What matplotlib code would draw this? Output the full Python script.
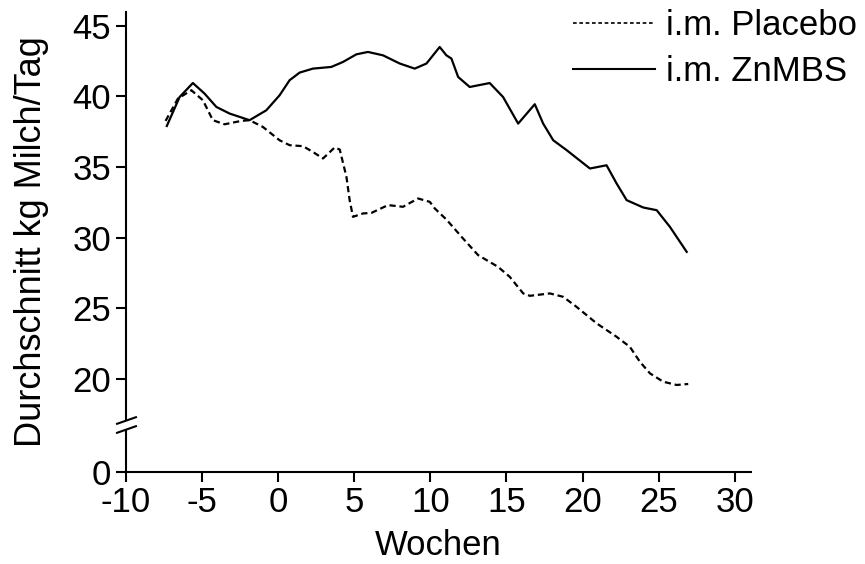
import matplotlib

matplotlib.use("Agg")
import matplotlib.pyplot as plt
from matplotlib.lines import Line2D

plt.rcParams["font.family"] = ["Liberation Sans", "DejaVu Sans"]

# Wochen / Milchleistung (kg/Tag)
placebo_x = [-7.37, -6.56, -5.68, -4.92, -4.27, -3.5, -2.4, -1.86, -0.98, 0.11, 0.77,
             1.65, 2.30, 2.96, 3.73, 4.06, 4.50, 4.71, 4.93, 5.59, 6.14, 7.23, 8.21,
             9.2, 9.97, 10.3, 11.06, 12.15, 13.14, 14.45, 15.22, 16.1, 16.54, 17.85,
             18.72, 19.6, 20.92, 22.23, 23.1, 23.76, 24.42, 25.29, 26.17, 26.93]
placebo_y = [38.27, 39.85, 40.44, 39.73, 38.32, 38.03, 38.27, 38.32, 37.84, 36.9, 36.55,
             36.48, 36.07, 35.61, 36.39, 36.24, 34.31, 32.66, 31.48, 31.72, 31.76, 32.31,
             32.19, 32.78, 32.54, 32.07, 31.29, 29.95, 28.77, 27.94, 27.23, 26.06, 25.89,
             26.06, 25.82, 25.11, 23.94, 22.99, 22.28, 21.22, 20.4, 19.81, 19.58, 19.65]

znmbs_x = [-7.29, -6.45, -5.58, -4.81, -4.04, -3.17, -1.86, -0.76, 0.11, 0.77, 1.43,
           2.30, 3.51, 4.27, 5.15, 5.91, 6.90, 8.0, 8.98, 9.75, 10.62, 11.06, 11.39,
           11.83, 12.59, 13.9, 14.78, 15.77, 16.86, 17.41, 18.07, 18.95, 20.48, 21.57,
           22.23, 22.89, 23.98, 24.86, 25.73, 26.83]
znmbs_y = [37.91, 39.96, 40.95, 40.2, 39.26, 38.79, 38.32, 39.02, 40.08, 41.15, 41.69,
           41.97, 42.09, 42.44, 42.98, 43.15, 42.91, 42.33, 41.97, 42.33, 43.50, 42.91,
           42.68, 41.38, 40.67, 40.95, 39.96, 38.08, 39.45, 38.08, 36.9, 36.2, 34.9,
           35.13, 33.84, 32.66, 32.14, 31.95, 30.77, 29.0]

labels = ["i.m. Placebo", "i.m. ZnMBS"]
x_ticks = [-10, -5, 0, 5, 10, 15, 20, 25, 30]
y_ticks = [20, 25, 30, 35, 40, 45]

# Achsenbruch: "0" sitzt unten, darueber beginnt die Skala bei ~17
Y_ZERO_POS = 13.44
Y_BREAK_HI = 17.07
Y_BREAK_LO = 16.44

fig = plt.figure(figsize=(8.65, 5.64), dpi=100)
ax = fig.add_axes([0.1451, 0.1636, 0.7231, 0.8157])

ax.plot(placebo_x, placebo_y, color="black", lw=1.6, dashes=(2.8, 1.7))
ax.plot(znmbs_x, znmbs_y, color="black", lw=1.6)

ax.set_xlim(-10, 31.05)
ax.set_ylim(Y_ZERO_POS, 46.0)
ax.set_xticks(x_ticks)
ax.set_xticklabels([str(v) for v in x_ticks])
ax.set_yticks([Y_ZERO_POS] + y_ticks)
ax.set_yticklabels(["0"] + [str(v) for v in y_ticks])

for side in ("top", "right"):
    ax.spines[side].set_visible(False)
for side in ("left", "bottom"):
    ax.spines[side].set_linewidth(1.5)
ax.spines["left"].set_bounds(Y_BREAK_HI, 46.0)
ax.plot([0, 0], [Y_ZERO_POS, Y_BREAK_LO], transform=ax.get_yaxis_transform(),
        color="black", lw=1.5, clip_on=False, solid_capstyle="butt")
# Bruchstriche
ax.plot([0, 0], [Y_BREAK_HI, Y_BREAK_LO], transform=ax.get_yaxis_transform(),
        ls="none", marker=[(-1, -0.35), (1, 0.35)], ms=15, mew=1.5,
        mec="black", clip_on=False)

ax.tick_params(axis="both", direction="out", length=7.5, width=1.5,
               labelsize=25, pad=3)

ax.set_xlabel("Wochen", fontsize=25, labelpad=7)
ax.set_ylabel("Durchschnitt kg Milch/Tag", fontsize=26, labelpad=17)

handles = [Line2D([], [], color="black", lw=1.2, dashes=(2.2, 1.6)),
           Line2D([], [], color="black", lw=1.5)]
fig.legend(handles, labels, loc="upper right", bbox_to_anchor=(1.027, 1.04),
           frameon=False, fontsize=25, handlelength=2.36, handletextpad=0.32,
           labelspacing=0.38)

fig.savefig("out.png", dpi=100)
